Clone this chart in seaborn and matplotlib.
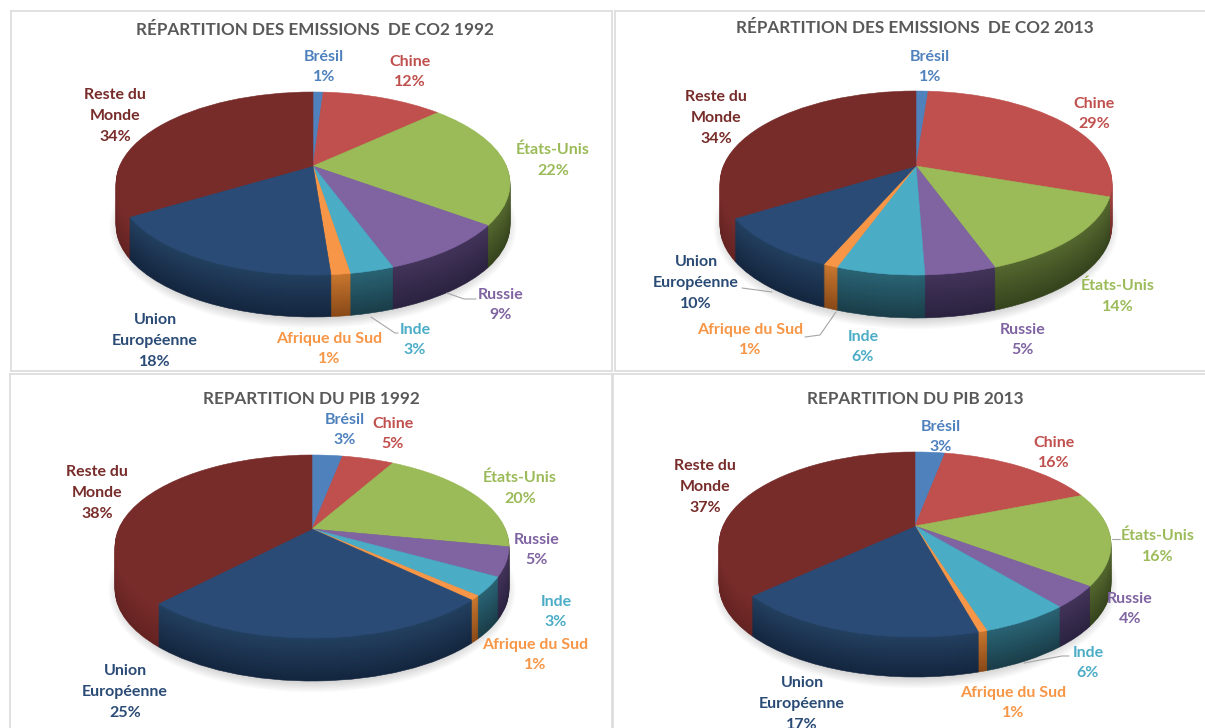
import numpy as np
import seaborn as sns
import matplotlib.pyplot as plt
from matplotlib.patches import Ellipse
from matplotlib.transforms import Transform

# parts in percent, clockwise from the top (labels show them rounded)
categories = ["Brésil", "Chine", "États-Unis", "Russie", "Inde", "Afrique du Sud", "Union\nEuropéenne", "Reste du\nMonde"]
co2_1992 = [1.0, 12.0, 22.2, 9.3, 3.0, 1.3, 17.5, 33.7]
co2_2013 = [1.2, 29.1, 14.2, 4.9, 6.1, 1.0, 9.6, 33.9]
pib_1992 = [3.0, 5.1, 20.0, 5.1, 3.3, 0.8, 24.7, 38.0]
pib_2013 = [3.0, 16.0, 16.2, 3.8, 6.1, 0.6, 17.4, 36.9]

titles = ["RÉPARTITION DES EMISSIONS  DE CO2 1992", "RÉPARTITION DES EMISSIONS  DE CO2 2013",
          "REPARTITION DU PIB 1992", "REPARTITION DU PIB 2013"]
all_values = [co2_1992, co2_2013, pib_1992, pib_2013]

top_colors = ["#4f81bd", "#c0504d", "#9bbb59", "#8064a2", "#4bacc6", "#f79646", "#2a4b75", "#772c2a"]
side_light = ["#4473a8", "#a84543", "#55682f", "#43345a", "#2a6475", "#c9772f", "#234060", "#7a2d2b"]
side_dark = ["#24405f", "#6e2c2a", "#36441d", "#2b2240", "#1a3e49", "#8a4a18", "#14263f", "#642322"]
text_colors = ["#4f81bd", "#c0504d", "#9bbb59", "#8064a2", "#4bacc6", "#f79646", "#2a4b75", "#772c2a"]

# layout in pixels of the image
panels = [(11, 612, 11, 371), (615, 1208, 11, 371), (10, 612, 374, 732), (613, 1208, 374, 732)]
# centre x, centre y, half width, up, down, depth
pies = [(313, 166, 197, 74, 109, 42), (916, 166, 196, 75, 109, 43),
        (312, 529, 197, 74, 109, 43), (915, 526, 196, 74, 111, 40)]
label_xy = [
    [(324, 67), (410, 72), (553, 160), (501, 305), (415, 340), (329, 349), (155, 341), (115, 116)],
    [(930, 67), (1094, 114), (1118, 296), (1023, 340), (863, 347), (750, 340), (696, 283), (716, 118)],
    [(345, 430), (393, 434), (520, 488), (537, 550), (556, 612), (535, 655), (125, 692), (97, 493)],
    [(941, 437), (1054, 453), (1158, 546), (1130, 609), (1088, 663), (1013, 703), (802, 704), (705, 487)],
]
title_xy = [(315, 30), (915, 28), (311, 399), (915, 399)]
leaders = [
    [[(447, 293), (464, 299), (476, 299)], [(371, 317), (395, 333), (398, 333)]],
    [[(742, 288), (772, 292)], [(805, 337), (820, 335), (836, 312)]],
    [],
    [[(1112, 539), (1120, 539)], [(1024, 663), (1062, 656), (1069, 656)]],
]


class Perspective(Transform):
    # unit disc -> tilted disc seen from the front, far side is smaller
    input_dims = 2
    output_dims = 2

    def __init__(self, cx, cy, rx, up, down, drop):
        super().__init__()
        self.k = (down - up) / (down + up)
        self.s = up * (1 + self.k)
        self.a = rx * np.sqrt(1 - self.k ** 2)
        self.cx, self.cy, self.drop = cx, cy, drop

    def transform_non_affine(self, values):
        u, v = values[:, 0], values[:, 1]
        w = 1 + self.k * v
        return np.column_stack([self.cx + self.a * u / w, self.cy + self.drop - self.s * v / w])


sns.set_theme(style="white")
plt.rcParams["font.family"] = ["Lato", "DejaVu Sans"]

W, H = 1205, 728
fig = plt.figure(figsize=(W / 100, H / 100), dpi=100, facecolor="white")


def draw_layer(ax, values, colors, geom, drop):
    wedges, _ = ax.pie(values, colors=colors, startangle=90, counterclock=False, radius=1,
                       wedgeprops=dict(linewidth=0.4))
    tr = Perspective(*geom[:5], drop) + ax.transData
    for w in wedges:
        w.set_edgecolor(w.get_facecolor())
        w.set_transform(tr)


for i, values in enumerate(all_values):
    x0, x1, y0, y1 = panels[i]
    ax = fig.add_axes([x0 / W, 1 - y1 / H, (x1 - x0) / W, (y1 - y0) / H])
    cx, cy, rx, up, down, depth = pies[i]

    # soft shadow under the pie
    mid = cy + (down - up) / 2
    for j in range(12):
        ax.add_patch(Ellipse((cx, mid + depth + 1), 2 * (rx - 10 + j * 1.5), 2 * ((up + down) / 2 - 4 + j * 1.3),
                             color="black", alpha=0.018, linewidth=0))

    # side wall, painted from the bottom up
    ramps = [sns.blend_palette([a, b], depth + 1) for a, b in zip(side_light, side_dark)]
    for d in range(depth, 0, -1):
        draw_layer(ax, values, [r[d] for r in ramps], pies[i], d)
    draw_layer(ax, values, top_colors, pies[i], 0)

    ax.set_aspect("auto")
    ax.set_xlim(x0, x1)
    ax.set_ylim(y1, y0)
    ax.set_xticks([])
    ax.set_yticks([])
    ax.set_frame_on(True)
    for s in ax.spines.values():
        s.set_color("#dcdcdc")
        s.set_linewidth(1.2)

    ax.text(title_xy[i][0], title_xy[i][1], titles[i], ha="center", va="center", fontsize=12.3,
            fontweight="bold", color="#595959")

    for name, val, (lx, ly), col in zip(categories, values, label_xy[i], text_colors):
        ax.text(lx, ly, f"{name}\n{val:.0f}%", ha="center", va="center", fontsize=11.5, fontweight="bold",
                color=col, linespacing=1.62, clip_on=False)

    for pts in leaders[i]:
        xs, ys = zip(*pts)
        ax.plot(xs, ys, color="#a6a6a6", linewidth=0.8)

fig.savefig("out.png", dpi=100)
plt.close()
